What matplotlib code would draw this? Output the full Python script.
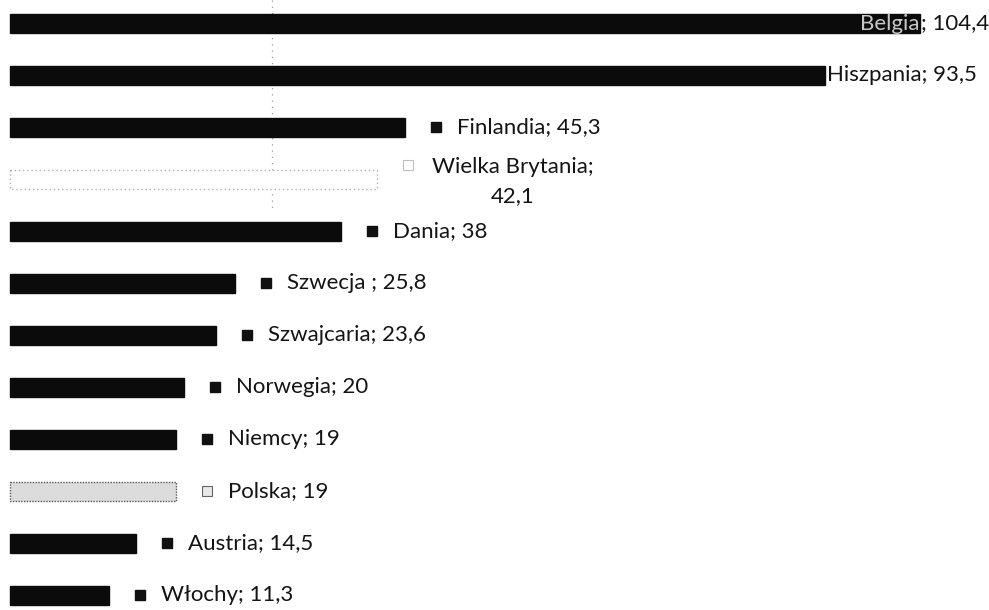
import matplotlib
matplotlib.use("Agg")
import matplotlib.pyplot as plt
from matplotlib.transforms import offset_copy

countries = ["Belgia", "Hiszpania", "Finlandia", "Wielka Brytania", "Dania", "Szwecja ",
             "Szwajcaria", "Norwegia", "Niemcy", "Polska", "Austria", "Włochy"]
values = [104.4, 93.5, 45.3, 42.1, 38, 25.8, 23.6, 20, 19, 19, 14.5, 11.3]
value_labels = ["104,4", "93,5", "45,3", "42,1", "38", "25,8", "23,6", "20", "19", "19", "14,5", "11,3"]
styles = ["dark", "dark", "dark", "outline", "dark", "dark", "dark", "dark", "dark", "light", "dark", "dark"]

plt.rcParams['font.family'] = ['Lato', 'DejaVu Sans']

fig = plt.figure(figsize=(9.89, 6.10), dpi=100)
ax = fig.add_axes([0, 0, 1, 1])
ax.set_xlim(-1.147, 112.27)
ax.set_ylim(11.28, -0.452)
ax.axis('off')

ypos = list(range(len(countries)))

# faint dotted gridline
ax.vlines(30, -0.452, 3.6, colors='#999999', linestyles=(0, (1, 4)), linewidth=0.9, zorder=1)

face = {"dark": "#0b0b0b", "outline": "#ffffff", "light": "#dcdcdc"}
edge = {"dark": "#0b0b0b", "outline": "#b0b0b0", "light": "#555555"}
lstyle = {"dark": "solid", "outline": (0, (1, 2)), "light": (0, (1, 1))}

for y, v, s in zip(ypos, values, styles):
    ax.barh(y, v, height=0.38, color=face[s], edgecolor=edge[s],
            linestyle=lstyle[s], linewidth=1.0, zorder=2)

fs = 16
txtcol = "#141414"
mark_tr = offset_copy(ax.transData, fig=fig, x=31, y=0, units='dots')
for i, (y, v, name, lab, s) in enumerate(zip(ypos, values, countries, value_labels, styles)):
    if i == 0:
        ax.annotate(name, xy=(v, y), xytext=(-1, 0), textcoords='offset pixels',
                    ha='right', va='center', fontsize=fs, color='#c8c8c8', zorder=3)
        ax.annotate("; " + lab, xy=(v, y), xytext=(1, 0), textcoords='offset pixels',
                    ha='left', va='center', fontsize=fs, color=txtcol, zorder=3)
        continue
    if i == 1:
        ax.annotate(f"{name}; {lab}", xy=(v, y), xytext=(2, 0), textcoords='offset pixels',
                    ha='left', va='center', fontsize=fs, color=txtcol, zorder=3)
        continue
    if s == "dark":
        ax.plot([v], [y], marker='s', markersize=7.5, color='#111111', transform=mark_tr,
                linestyle='none', zorder=3)
    elif s == "light":
        ax.plot([v], [y], marker='s', markersize=6.5, markerfacecolor='#e8e8e8',
                markeredgecolor='#666666', markeredgewidth=0.8, transform=mark_tr,
                linestyle='none', zorder=3)
    else:
        ax.plot([v], [y], marker='s', markersize=6.5, markerfacecolor='white',
                markeredgecolor='#c0c0c0', markeredgewidth=0.8,
                transform=offset_copy(ax.transData, fig=fig, x=31, y=14, units='dots'),
                linestyle='none', zorder=3)
    if name == "Wielka Brytania":
        ax.annotate(f"{name};\n{lab}", xy=(v, y), xytext=(55, -2), textcoords='offset pixels',
                    ha='left', va='center', multialignment='center', linespacing=1.6,
                    fontsize=fs, color=txtcol, zorder=3)
    else:
        ax.annotate(f"{name}; {lab}", xy=(v, y), xytext=(52, 0), textcoords='offset pixels',
                    ha='left', va='center', fontsize=fs, color=txtcol, zorder=3)

fig.savefig("out.png", dpi=100)
